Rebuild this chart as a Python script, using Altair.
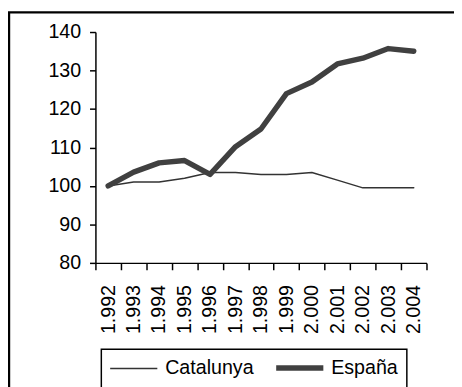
import altair as alt
import pandas as pd

years = ["1.992", "1.993", "1.994", "1.995", "1.996", "1.997", "1.998",
         "1.999", "2.000", "2.001", "2.002", "2.003", "2.004"]
catalunya = [100, 101, 101, 102, 103.5, 103.5, 103, 103, 103.5, 101.5, 99.5, 99.5, 99.5]
espana = [100, 103.6, 106, 106.6, 103, 110.2, 114.8, 124, 127, 131.7, 133.2, 135.7, 135]
series = ["Catalunya", "España"]
y_ticks = [80, 90, 100, 110, 120, 130, 140]

rows = []
for s, vals in zip(series, [catalunya, espana]):
    for yr, v in zip(years, vals):
        rows.append({"year": yr, "value": v, "series": s})
df = pd.DataFrame(rows)

FONT = "Liberation Sans"

legend = alt.Legend(
    title=None, orient="none", legendX=6, legendY=323, direction="horizontal",
    symbolType="M-4,0L4,0", symbolSize=144, symbolOffset=14, labelOffset=22,
    padding=9, columnPadding=11, labelFontSize=20, labelFont=FONT,
    labelColor="black", strokeColor="black", labelLimit=0,
)

lines = alt.Chart(df).mark_line(strokeCap="round", strokeJoin="round").encode(
    x=alt.X("year:O", sort=years,
            scale=alt.Scale(type="band", paddingInner=0, paddingOuter=0),
            axis=alt.Axis(title=None, labelAngle=270, tickBand="extent",
                          labelFontSize=20, labelFont=FONT, labelColor="black",
                          tickSize=7, tickColor="black", tickWidth=1.5,
                          domainColor="black", domainWidth=1.5,
                          labelPadding=15, grid=False)),
    y=alt.Y("value:Q", scale=alt.Scale(domain=[80, 140], nice=False, zero=False),
            axis=alt.Axis(title=None, values=y_ticks, labelFontSize=20,
                          labelFont=FONT, labelColor="black", tickSize=6,
                          tickColor="black", tickWidth=1.5, domainColor="black",
                          domainWidth=1.5, labelPadding=9, grid=False)),
    color=alt.Color("series:N", sort=series,
                    scale=alt.Scale(domain=series, range=["#333333", "#404040"]),
                    legend=legend),
    strokeWidth=alt.StrokeWidth("series:N", sort=series,
                                scale=alt.Scale(domain=series, range=[1.5, 5.5]),
                                legend=legend),
)

border = alt.Chart(alt.Data(values=[{"a": 1}])).mark_rect(
    fillOpacity=0, stroke="black", strokeWidth=2.5
).encode(
    x=alt.value(-88), x2=alt.value(700), y=alt.value(-20), y2=alt.value(700)
)

chart = alt.layer(border, lines).properties(
    width=337, height=235,
    autosize=alt.AutoSizeParams(type="none"),
    padding={"left": 89, "top": 21, "right": 28, "bottom": 130},
    background="white",
).configure_view(strokeWidth=0).configure_legend(strokeWidth=1.5)

chart.save("out.html", embed_options={"renderer": "svg", "actions": False})
